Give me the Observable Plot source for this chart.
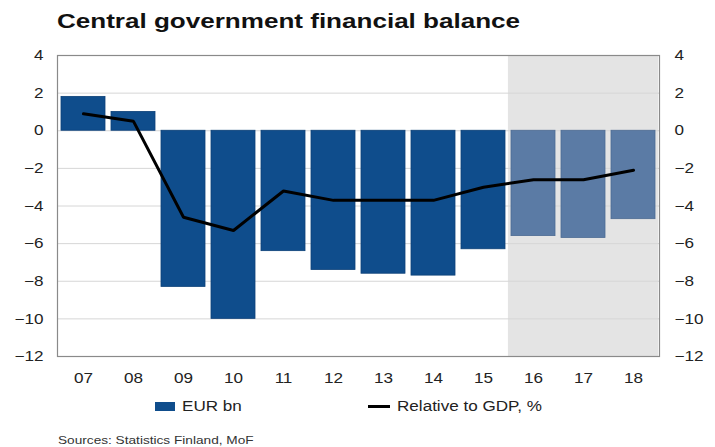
<!DOCTYPE html>
<html>
<head>
<meta charset="utf-8">
<script src="https://cdn.jsdelivr.net/npm/d3@7"></script>
<script src="https://cdn.jsdelivr.net/npm/@observablehq/plot@0.6"></script>
<style>
  body { margin: 0; background: #fff; font-family: "Liberation Sans", Arial, sans-serif; color: #222; }
  #wrap { position: relative; width: 715px; height: 447px; }
  #title { position: absolute; left: 57px; top: 9px; font-size: 21px; font-weight: bold; color: #111; white-space: nowrap; transform: scaleX(1.24); transform-origin: left center; }
  #chart { position: absolute; left: 0; top: 40px; }
  .leg { position: absolute; top: 398px; font-size: 14px; color: #222; display: flex; align-items: center; white-space: nowrap; }
  .leg span { display: inline-block; transform: scaleX(1.22); transform-origin: left center; }
  .sw-bar { width: 20px; height: 9px; background: #0f4d8c; margin-right: 7px; }
  .sw-line { width: 22px; height: 3px; background: #000; margin-right: 7px; }
  #source { position: absolute; left: 58px; top: 434px; font-size: 11px; color: #333; white-space: nowrap; transform: scaleX(1.24); transform-origin: left center; }
</style>
</head>
<body>
<div id="wrap">
  <div id="title">Central government financial balance</div>
  <div id="chart"></div>
  <div class="leg" style="left:155px"><div class="sw-bar"></div><span>EUR bn</span></div>
  <div class="leg" style="left:368px"><div class="sw-line"></div><span>Relative to GDP, %</span></div>
  <div id="source">Sources: Statistics Finland, MoF</div>
</div>
<script>
const years = ["07","08","09","10","11","12","13","14","15","16","17","18"];
const eurBn = [1.8, 1.0, -8.3, -10.0, -6.4, -7.4, -7.6, -7.7, -6.3, -5.6, -5.7, -4.7];
const gdpPct = [0.9, 0.5, -4.6, -5.3, -3.2, -3.7, -3.7, -3.7, -3.0, -2.6, -2.6, -2.1];
const forecastYears = ["16","17","18"];
const yTicks = [4, 2, 0, -2, -4, -6, -8, -10, -12];

const bars = years.map((y, i) => ({year: y, value: eurBn[i], forecast: forecastYears.includes(y)}));
const line = years.map((y, i) => ({year: y, value: gdpPct[i]}));
const yMin = d3.min(yTicks), yMax = d3.max(yTicks);

const chart = Plot.plot({
  width: 715,
  height: 350,
  marginLeft: 57,
  marginRight: 56,
  marginTop: 15,
  marginBottom: 34,
  style: {fontFamily: "Liberation Sans, Arial, sans-serif", fontSize: "14px", color: "#222", background: "#fff"},
  x: {type: "band", domain: years, paddingInner: 0.12, paddingOuter: 0.06, label: null},
  y: {domain: [yMin, yMax], label: null},
  marks: [
    Plot.barY(forecastYears, {x: d => d, y1: yMin, y2: yMax, fill: "#e4e4e4", insetLeft: -3.1, insetRight: -3.1}),
    Plot.ruleY(yTicks, {stroke: "#d6d6d6", strokeWidth: 1}),
    Plot.barY(bars, {x: "year", y: "value", fill: d => d.forecast ? "#5b7ba5" : "#0f4d8c", stroke: d => d.forecast ? "#4d6b93" : "#0c4078", strokeWidth: 0.8}),
    Plot.line(line, {x: "year", y: "value", stroke: "#000", strokeWidth: 3, strokeLinejoin: "miter"}),
    Plot.frame({stroke: "#8a8a8a", strokeWidth: 1.2}),
    Plot.axisY({anchor: "left", ticks: yTicks, tickSize: 0, tickPadding: 14, tickFormat: d3.format("d"), fontSize: 14.5, fill: "#222"}),
    Plot.axisY({anchor: "right", ticks: yTicks, tickSize: 0, tickPadding: 15, tickFormat: d3.format("d"), fontSize: 14.5, fill: "#222"}),
    Plot.axisX({tickSize: 0, tickPadding: 16, fontSize: 14.5, fill: "#222"})
  ]
});
d3.select(chart).selectAll("g[aria-label$='tick label'] text").attr("transform", function() {
  return (this.getAttribute("transform") || "") + " scale(1.18,1)";
});
document.getElementById("chart").appendChild(chart);
</script>
</body>
</html>
